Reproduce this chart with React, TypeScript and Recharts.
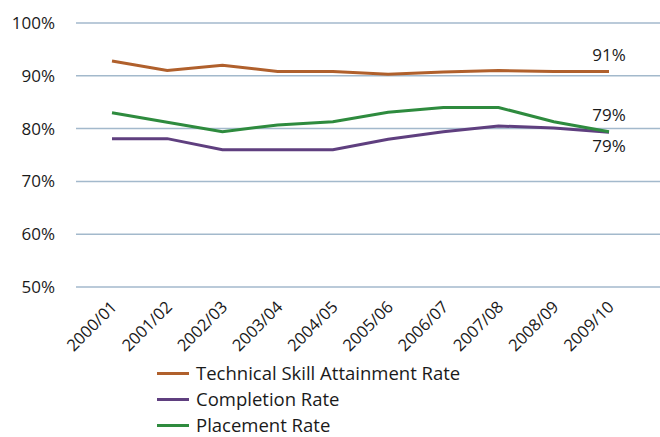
import React from "react";
import { LineChart, Line, XAxis, YAxis, CartesianGrid, Legend } from "recharts";

// school years on the x axis
const years: string[] = ["2000/01", "2001/02", "2002/03", "2003/04", "2004/05", "2005/06", "2006/07", "2007/08", "2008/09", "2009/10"];

// rates in percent
const technicalSkill: number[] = [92.8, 91.0, 92.0, 90.8, 90.8, 90.3, 90.7, 91.0, 90.8, 90.8];
const completion: number[] = [78.1, 78.1, 76.0, 76.0, 76.0, 78.0, 79.4, 80.5, 80.1, 79.3];
const placement: number[] = [83.0, 81.2, 79.4, 80.7, 81.3, 83.1, 84.0, 84.0, 81.3, 79.4];

const yTicks: number[] = [50, 60, 70, 80, 90, 100];

const seriesInfo = [
    { key: "technical", name: "Technical Skill Attainment Rate", color: "#b0602c", labelBelow: false },
    { key: "completion", name: "Completion Rate", color: "#5f3f7f", labelBelow: true },
    { key: "placement", name: "Placement Rate", color: "#2e8b3e", labelBelow: false },
];

const data = years.map((year, i) => ({
    year,
    technical: technicalSkill[i],
    completion: completion[i],
    placement: placement[i],
}));

const FONT = "'Open Sans', sans-serif";
const ROW_H = 26;
const LEGEND_H = 75;

const YearTick = (props: any) => {
    const { x, y, payload } = props;
    return (
        <text
            x={0}
            y={0}
            textAnchor="end"
            fontSize={16.5}
            fontFamily={FONT}
            fill="#1a1a1a"
            transform={`translate(${x + 6},${y + 13}) rotate(-45)`}
        >
            {payload.value}
        </text>
    );
};

// only the last point of each line gets a value label
const endLabel = (below: boolean) => (props: any) => {
    const { x, y, index, value } = props;
    if (index !== years.length - 1) return <g key={`lbl-${index}`} />;
    return (
        <text
            key={`lbl-${index}`}
            x={x}
            y={below ? y + 20 : y - 11}
            textAnchor="middle"
            fontSize={17}
            fontFamily={FONT}
            fill="#1a1a1a"
        >
            {`${Math.round(value)}%`}
        </text>
    );
};

const LegendBox = () => (
    <div style={{ fontFamily: FONT, fontSize: 18.5, lineHeight: "18px", color: "#1a1a1a", whiteSpace: "nowrap" }}>
        {seriesInfo.map((s) => (
            <div key={s.key} style={{ display: "flex", alignItems: "center", height: ROW_H }}>
                <span style={{ display: "inline-block", width: 32, height: 3, background: s.color, marginRight: 7 }} />
                <span>{s.name}</span>
            </div>
        ))}
    </div>
);

const App: React.FC = () => {
    return (
        <div style={{ position: "absolute", left: 0, top: 0, width: 660, height: 437, background: "#fff" }}>
            <LineChart width={660} height={437} data={data} margin={{ top: 23, right: 0, bottom: 0, left: 0 }}>
                <CartesianGrid vertical={false} stroke="#a3b9cc" strokeWidth={1.5} />
                <XAxis
                    dataKey="year"
                    axisLine={false}
                    tickLine={false}
                    height={150 - LEGEND_H}
                    padding={{ left: 36, right: 51 }}
                    interval={0}
                    tick={<YearTick />}
                />
                <YAxis
                    domain={[50, 100]}
                    ticks={yTicks}
                    width={76}
                    axisLine={false}
                    tickLine={false}
                    tickSize={0}
                    tickMargin={21}
                    tickFormatter={(v: number) => `${v}%`}
                    tick={{ fontSize: 17, fontFamily: FONT, fill: "#1a1a1a" }}
                />
                {seriesInfo.map((s) => (
                    <Line
                        key={s.key}
                        type="linear"
                        dataKey={s.key}
                        name={s.name}
                        stroke={s.color}
                        strokeWidth={3}
                        dot={false}
                        activeDot={false}
                        isAnimationActive={false}
                        label={endLabel(s.labelBelow)}
                    />
                ))}
                <Legend
                    verticalAlign="bottom"
                    content={<LegendBox />}
                    wrapperStyle={{ left: 157, top: 360, width: 400, height: LEGEND_H, overflow: "visible" }}
                />
            </LineChart>
        </div>
    );
};

export default App;
